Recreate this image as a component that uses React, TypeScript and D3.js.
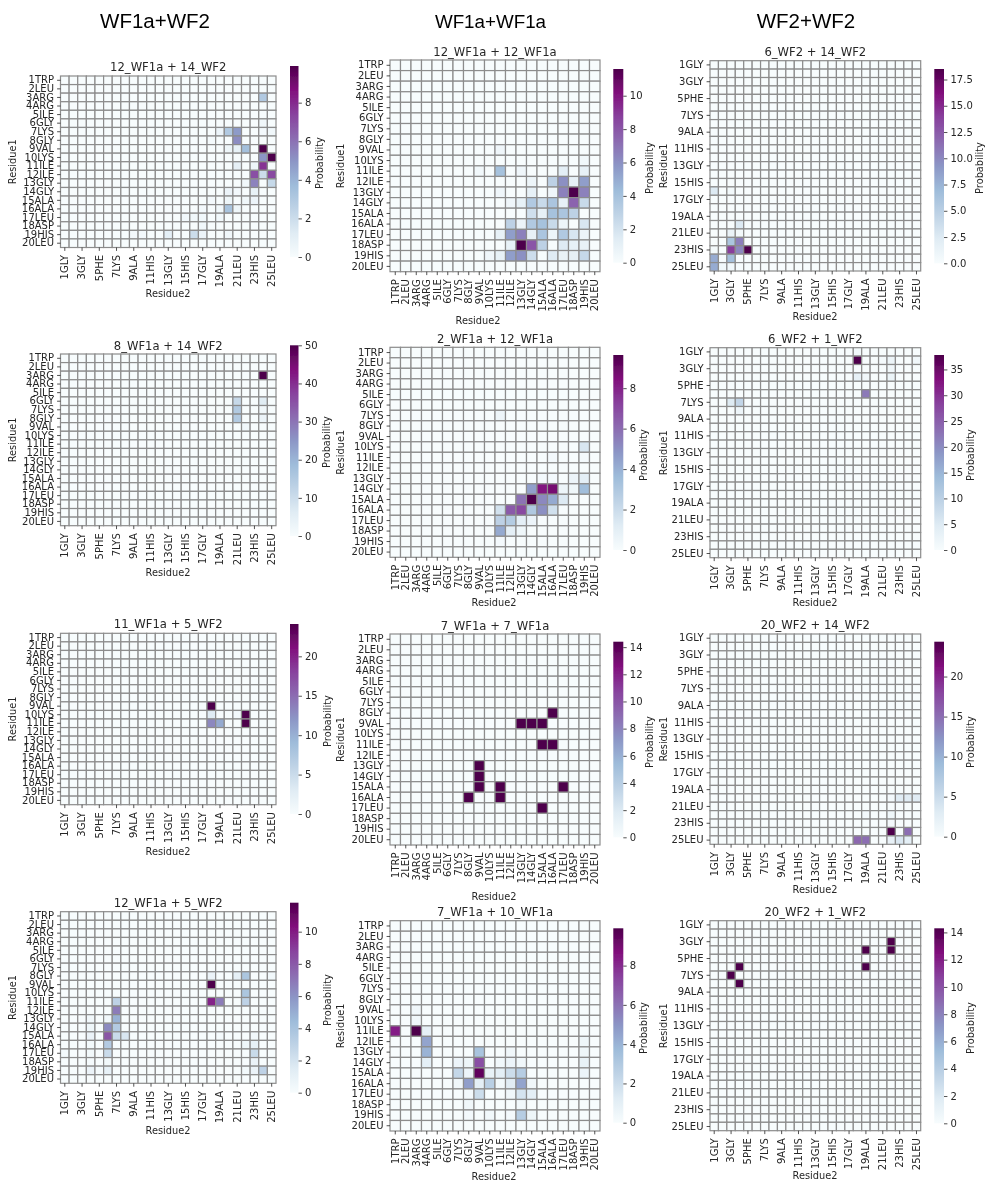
import React from "react";
import * as d3 from "d3";

// residue names on the two axes
const wf1a = ["1TRP", "2LEU", "3ARG", "4ARG", "5ILE", "6GLY", "7LYS", "8GLY", "9VAL", "10LYS", "11ILE", "12ILE", "13GLY", "14GLY", "15ALA", "16ALA", "17LEU", "18ASP", "19HIS", "20LEU"];
const wf2 = ["1GLY", "2", "3GLY", "4", "5PHE", "6", "7LYS", "8", "9ALA", "10", "11HIS", "12", "13GLY", "14", "15HIS", "16", "17GLY", "18", "19ALA", "20", "21LEU", "22", "23HIS", "24", "25LEU"];
const wf2Ticks = wf2.filter((d, i) => i % 2 === 0);

const columnTitles = ["WF1a+WF2", "WF1a+WF1a", "WF2+WF2"];

// non zero cells only: [residue1 number, residue2 number, probability]
type Cell = [number, number, number];

const cells12a14 = [[3,24,3],[6,24,.4],[7,19,.6],[7,20,3],[7,21,4.8],[7,24,.2],[7,25,.4],[8,18,.15],[8,21,5.2],[9,20,.5],[9,21,.8],[9,22,3.5],[9,24,9.9],[10,24,5],[10,25,9.9],[11,21,.9],[11,23,.5],[11,24,7.8],[12,23,7],[12,24,2],[12,25,7.2],[13,22,.3],[13,23,5.5],[13,25,2.2],[14,20,.6],[14,21,.2],[14,23,.8],[15,18,.2],[15,20,.5],[15,22,.4],[15,23,.6],[16,17,.2],[16,19,.3],[16,20,3.3],[16,21,.5],[17,15,.3],[17,16,.3],[17,17,.3],[17,19,.3],[18,17,.3],[19,9,.2],[19,10,.2],[19,13,1],[19,16,2],[19,17,.6],[19,20,.4]] as Cell[];
const cells8a14 = [[3,24,50],[6,21,11],[6,24,6],[7,21,15],[7,24,1.5],[8,21,15],[8,24,3],[9,22,2]] as Cell[];
const cells11a5 = [[9,18,24.1],[10,18,3],[10,21,.5],[10,22,24.1],[11,18,13],[11,19,10.5],[11,22,24.1]] as Cell[];
const cells12a5 = [[8,18,.8],[8,21,1.1],[8,22,3.8],[8,25,.4],[9,18,11.8],[10,22,3.8],[11,7,3],[11,18,9.8],[11,19,6.8],[11,22,3],[12,7,6.8],[13,4,.4],[13,6,.4],[13,7,4.8],[14,4,.5],[14,6,6.3],[14,7,3.5],[15,4,.8],[15,6,8.2],[15,7,2.5],[15,8,1.8],[15,19,.2],[15,23,.4],[16,4,.3],[16,6,3.5],[16,22,.5],[16,23,1],[17,1,.2],[17,4,.3],[17,6,2.5],[17,23,2.5],[18,4,.2],[18,6,.3],[18,23,.8],[19,4,.8],[19,5,.2],[19,6,1],[19,22,.3],[19,23,.8],[19,24,3]] as Cell[];
const cells12a12a = [[9,11,.5],[10,19,.4],[11,9,.4],[11,11,4],[11,13,.5],[11,17,1.2],[11,19,1],[12,14,.6],[12,16,3],[12,17,6],[12,18,1],[12,19,5.5],[13,11,.5],[13,14,1],[13,16,.5],[13,17,6.5],[13,18,11.6],[13,19,6.5],[14,12,.5],[14,13,1],[14,14,3.5],[14,15,2.5],[14,16,3.8],[14,17,1],[14,18,7.5],[14,19,2.5],[15,14,2.2],[15,15,1],[15,16,4],[15,17,3.8],[15,18,3],[16,12,3],[16,13,.7],[16,14,3.5],[16,15,4],[16,16,2.5],[16,17,.6],[16,19,1.8],[17,11,1],[17,12,5.5],[17,13,6.5],[17,14,1],[17,15,3.8],[17,16,.6],[17,17,3.5],[17,18,1.8],[17,19,.7],[18,12,1],[18,13,11.6],[18,14,8],[18,15,3],[18,17,1.5],[18,18,1],[18,19,.9],[19,10,.5],[19,11,1],[19,12,5.5],[19,13,6],[19,14,2.3],[19,16,1.5],[19,17,.9],[19,18,1.1],[19,19,2.6]] as Cell[];
const cells2a12a = [[7,11,.5],[10,19,1.5],[11,16,.2],[11,19,.2],[13,15,.2],[13,16,.2],[13,18,.6],[13,19,1],[14,14,4.5],[14,15,8.3],[14,16,8.7],[14,17,.5],[14,18,.4],[14,19,3.5],[15,13,5.8],[15,14,9.64],[15,15,5.2],[15,16,4.2],[15,17,1.3],[16,11,1.7],[16,12,6.5],[16,13,7],[16,14,3],[16,15,5],[16,16,1.8],[17,11,2.5],[17,12,2.8],[17,13,1],[17,14,.6],[18,11,4.2],[18,12,1],[18,13,.4],[19,11,.2]] as Cell[];
const cells7a7a = [[8,16,14.4],[9,13,14.4],[9,14,14.4],[9,15,14.4],[11,15,14.4],[11,16,14.4],[13,9,14.4],[14,9,14.4],[15,9,14.4],[15,11,14.4],[15,17,14.4],[16,8,14.4],[16,11,14.4],[17,15,14.4]] as Cell[];
const cells7a10a = [[9,3,.4],[10,3,.4],[11,1,8.3],[11,3,9.9],[11,4,.9],[12,4,4.5],[12,19,.5],[13,4,4],[13,9,3.3],[13,12,.4],[13,19,.5],[14,4,1],[14,7,.6],[14,8,.5],[14,9,7],[14,11,.3],[14,12,.6],[14,13,.4],[14,19,.8],[15,7,2.3],[15,8,.6],[15,9,9.5],[15,10,.8],[15,11,1],[15,12,2],[15,13,2.8],[15,19,.6],[16,7,.4],[16,8,4.7],[16,9,1],[16,10,2.7],[16,11,.3],[16,12,1.2],[16,13,4.5],[16,14,.4],[17,8,.2],[17,9,2],[17,12,.4],[17,13,1.7],[17,14,1],[18,8,.4],[18,13,.3],[19,8,.2],[19,10,.3],[19,12,.2],[19,13,2.8],[19,14,.5]] as Cell[];
const cells6w14 = [[16,1,2.5],[16,3,.5],[20,4,2.5],[21,3,1.3],[21,4,.5],[22,3,6],[22,4,10.5],[23,1,.5],[23,3,14],[23,4,10],[23,5,18.5],[24,1,8],[24,3,6.5],[25,1,8],[25,2,.5],[25,3,.6]] as Cell[];
const cells6w1 = [[1,18,1],[2,18,37.8],[2,21,.7],[2,22,2],[2,25,1.5],[3,22,1.5],[4,18,3.5],[4,19,1.5],[4,22,2.5],[6,19,22],[7,3,5],[7,4,9],[8,4,2]] as Cell[];
const cells20w14 = [[20,22,.5],[20,23,3],[20,24,3],[20,25,3],[22,19,.5],[22,22,1],[23,22,.5],[24,22,24.35],[24,24,15],[25,18,15.5],[25,19,15],[25,22,2],[25,23,3.5],[25,24,2.5]] as Cell[];
const cells20w1 = [[3,22,14.3],[4,19,14.3],[4,22,14.3],[6,4,14.3],[6,19,14.3],[7,3,14.3],[8,4,14.3]] as Cell[];

const panels = [
  { title: "12_WF1a + 14_WF2", rows: wf1a, cols: wf2, cells: cells12a14, vmax: 9.9, step: 2, box: [60.5, 76, 276, 247.5], bar: [290, 66, 298.5, 257], tY: 66.7, xl: [168, 294], yl: 13, cl: [320, 163] },
  { title: "8_WF1a + 14_WF2", rows: wf1a, cols: wf2, cells: cells8a14, vmax: 50, step: 10, box: [60.5, 354, 276, 525.7], bar: [290, 345.3, 298.5, 536], tY: 345.7, xl: [168, 573], yl: 13, cl: [327, 442] },
  { title: "11_WF1a + 5_WF2", rows: wf1a, cols: wf2, cells: cells11a5, vmax: 24.1, step: 5, box: [60.5, 633.3, 276, 804.7], bar: [290, 624, 298.5, 814], tY: 624, xl: [168, 852], yl: 13, cl: [328, 721] },
  { title: "12_WF1a + 5_WF2", rows: wf1a, cols: wf2, cells: cells12a5, vmax: 11.8, step: 2, box: [60.5, 911.7, 276, 1083.3], bar: [290, 902.7, 298.5, 1092.7], tY: 902.7, xl: [168, 1131], yl: 13, cl: [328, 1000] },
  { title: "12_WF1a + 12_WF1a", rows: wf1a, cols: wf1a, cells: cells12a12a, vmax: 11.6, step: 2, box: [390, 60, 600, 271.7], bar: [613.3, 69, 623.3, 262.7], tY: 52, xl: [478, 321], yl: 341, cl: [650, 168] },
  { title: "2_WF1a + 12_WF1a", rows: wf1a, cols: wf1a, cells: cells2a12a, vmax: 9.64, step: 2, box: [390, 347.3, 600, 557.3], bar: [613.3, 355, 623.3, 550], tY: 339.3, xl: [494, 603], yl: 341, cl: [644, 455] },
  { title: "7_WF1a + 7_WF1a", rows: wf1a, cols: wf1a, cells: cells7a7a, vmax: 14.4, step: 2, box: [390, 634, 600, 845], bar: [613.3, 641.7, 623.3, 837.3], tY: 626, xl: [494, 897], yl: 341, cl: [650, 742] },
  { title: "7_WF1a + 10_WF1a", rows: wf1a, cols: wf1a, cells: cells7a10a, vmax: 9.9, step: 2, box: [390, 920.7, 600, 1131], bar: [613.3, 928.3, 623.3, 1122.7], tY: 912.3, xl: [494, 1177], yl: 341, cl: [644, 1028] },
  { title: "6_WF2 + 14_WF2", rows: wf2, cols: wf2, cells: cells6w14, vmax: 18.5, step: 2.5, box: [710, 60.7, 920.7, 271], bar: [934.3, 69, 944, 263.3], tY: 52, xl: [815, 317], yl: 664, cl: [980, 168] },
  { title: "6_WF2 + 1_WF2", rows: wf2, cols: wf2, cells: cells6w1, vmax: 37.8, step: 5, box: [710, 347.7, 920.7, 557.7], bar: [934.3, 355, 944, 550], tY: 339, xl: [815, 603], yl: 664, cl: [971, 455] },
  { title: "20_WF2 + 14_WF2", rows: wf2, cols: wf2, cells: cells20w14, vmax: 24.35, step: 5, box: [710, 634, 920.7, 844.3], bar: [934.3, 641.7, 944, 836.7], tY: 625, xl: [815, 890], yl: 664, cl: [971, 742] },
  { title: "20_WF2 + 1_WF2", rows: wf2, cols: wf2, cells: cells20w1, vmax: 14.3, step: 2, box: [710, 920.7, 920.7, 1130.7], bar: [934.3, 928.3, 944, 1123.3], tY: 912, xl: [815, 1176], yl: 664, cl: [971, 1028] },
];

const titleX = [155, 490.5, 806];
const titleSize = [20.5, 18.8, 20.5];

const textColor = "#262626";
const font = "'DejaVu Sans', sans-serif";
const tickFont = 10;
const buPu = d3.schemeBuPu[9];

function Panel({ p, id }: { p: (typeof panels)[number]; id: number }) {
  const axisRef = React.useRef<SVGGElement>(null);
  const [x0, y0, x1, y1] = p.box;
  const [bx0, by0, bx1, by1] = p.bar;

  const x = d3.scaleBand<string>().domain(p.cols).range([x0, x1]);
  const y = d3.scaleBand<string>().domain(p.rows).range([y0, y1]);
  const color = d3.scaleSequential(d3.piecewise(d3.interpolateRgb, buPu)).domain([0, p.vmax]);
  const barScale = d3.scaleLinear().domain([0, p.vmax]).range([by1, by0]);

  const lookup = new Map(p.cells.map(c => [c[0] + "-" + c[1], c[2]]));
  const grid = d3.cross(p.rows.map((d, i) => ({ name: d, n: i + 1 })), p.cols.map((d, i) => ({ name: d, n: i + 1 })));

  React.useEffect(() => {
    const g = d3.select(axisRef.current);
    g.selectAll("*").remove();

    const xTicks = p.cols === wf2 ? wf2Ticks : p.cols;
    const yTicks = p.rows === wf2 ? wf2Ticks : p.rows;

    const xG = g.append("g").attr("transform", `translate(0,${y1})`).call(d3.axisBottom(x).tickValues(xTicks).tickSize(3.4));
    xG.selectAll("text")
      .attr("transform", "rotate(-90)")
      .attr("x", -7.5)
      .attr("y", 0)
      .attr("dy", ".33em")
      .attr("text-anchor", "end");

    const yG = g.append("g").attr("transform", `translate(${x0},0)`).call(d3.axisLeft(y).tickValues(yTicks).tickSize(3.4));
    yG.selectAll("text").attr("x", -6.5);

    const fmt = p.step % 1 ? d3.format(".1f") : d3.format("d");
    const bTicks = d3.range(0, p.vmax + 0.001, p.step);
    const bG = g.append("g").attr("transform", `translate(${bx1},0)`).call(d3.axisRight(barScale).tickValues(bTicks).tickFormat(fmt as any).tickSize(3.4));
    bG.selectAll("text").attr("x", 6.5);

    g.selectAll(".domain").remove();
    g.selectAll("line").attr("stroke", textColor).attr("stroke-width", 0.8);
    g.selectAll("text").attr("fill", textColor).attr("font-size", tickFont).attr("font-family", font);
  }, []);

  return (
    <g>
      <defs>
        <linearGradient id={"bar" + id} x1="0" y1="1" x2="0" y2="0">
          {buPu.map((c, i) => <stop key={i} offset={i / 8} stopColor={c} />)}
        </linearGradient>
      </defs>
      {grid.map(([r, c]) => (
        <rect
          key={r.n + "-" + c.n}
          x={x(c.name)}
          y={y(r.name)}
          width={x.bandwidth()}
          height={y.bandwidth()}
          fill={color(lookup.get(r.n + "-" + c.n) ?? 0)}
          stroke="#8c8c8c"
          strokeWidth={1.2}
        />
      ))}
      <rect x={bx0} y={by0} width={bx1 - bx0} height={by1 - by0} fill={`url(#bar${id})`} />
      <g ref={axisRef} />
      <text x={(x0 + x1) / 2} y={p.tY} dy=".35em" textAnchor="middle" fontSize={11.6} fill={textColor} fontFamily={font}>{p.title}</text>
      <text x={p.xl[0]} y={p.xl[1]} dy=".35em" textAnchor="middle" fontSize={9.8} fill={textColor} fontFamily={font}>Residue2</text>
      <text transform={`translate(${p.yl},${(y0 + y1) / 2}) rotate(-90)`} dy=".35em" textAnchor="middle" fontSize={9.8} fill={textColor} fontFamily={font}>Residue1</text>
      <text transform={`translate(${p.cl[0]},${p.cl[1]}) rotate(-90)`} dy=".35em" textAnchor="middle" fontSize={9.8} fill={textColor} fontFamily={font}>Probability</text>
    </g>
  );
}

export default function App() {
  return (
    <svg width={987} height={1183} style={{ position: "absolute", left: 0, top: 0, background: "#fff" }}>
      <defs>
        {/* the reference is an upscaled raster, so everything is a little soft */}
        <filter id="soft" filterUnits="userSpaceOnUse" x="0" y="0" width="987" height="1183">
          <feGaussianBlur stdDeviation="0.35" />
        </filter>
      </defs>
      <g filter="url(#soft)">
        {columnTitles.map((t, i) => (
          <text key={t} x={titleX[i]} y={21} dy=".35em" textAnchor="middle" fontSize={titleSize[i]} fill="#000" fontFamily="'Liberation Sans', Arial, sans-serif">{t}</text>
        ))}
        {panels.map((p, i) => <Panel key={p.title} p={p} id={i} />)}
      </g>
    </svg>
  );
}
